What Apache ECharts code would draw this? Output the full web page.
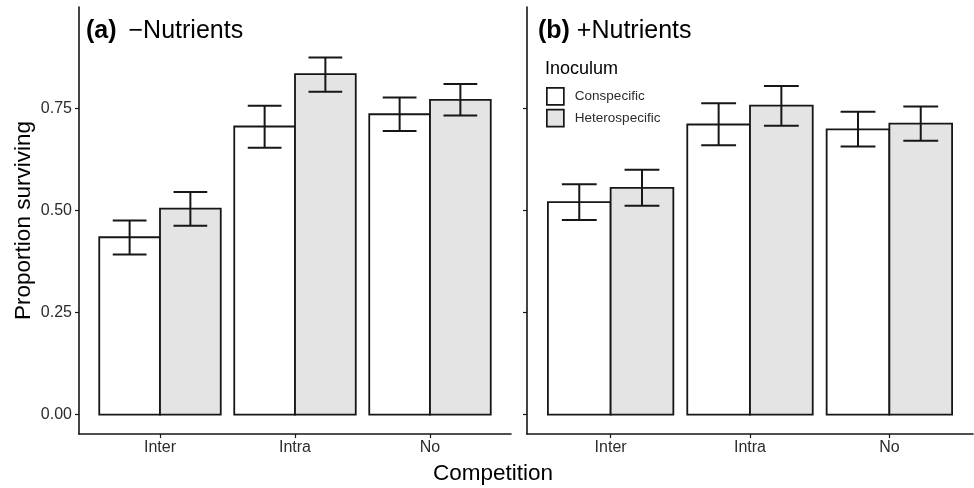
<!DOCTYPE html>
<html>
<head>
<meta charset="utf-8">
<script src="https://cdn.jsdelivr.net/npm/echarts@6/dist/echarts.min.js"></script>
<style>html,body{margin:0;padding:0;background:#fff}#c{width:974px;height:488px}</style>
</head>
<body>
<div id="c"></div>
<script>
const categories = ['Inter', 'Intra', 'No'];
const yTicks = [0, 0.25, 0.5, 0.75];
// (a) -Nutrients
const minusConsp   = [0.434, 0.705, 0.735];
const minusConspLo = [0.392, 0.653, 0.694];
const minusConspHi = [0.475, 0.756, 0.776];
const minusHetero   = [0.504, 0.833, 0.770];
const minusHeteroLo = [0.462, 0.790, 0.732];
const minusHeteroHi = [0.545, 0.874, 0.809];
// (b) +Nutrients
const plusConsp   = [0.520, 0.710, 0.698];
const plusConspLo = [0.476, 0.659, 0.656];
const plusConspHi = [0.564, 0.762, 0.741];
const plusHetero   = [0.555, 0.756, 0.712];
const plusHeteroLo = [0.511, 0.707, 0.670];
const plusHeteroHi = [0.599, 0.804, 0.754];

const FONT = '"Liberation Sans", Arial, sans-serif';
const INK = '#161616';
const GREY = '#e4e4e4';

function makeSeries(name, gi, offset, fill, vals, lo, hi) {
  return {
    type: 'custom', name: name, xAxisIndex: gi, yAxisIndex: gi,
    itemStyle: { color: fill, borderColor: INK, borderWidth: 1.8 },
    data: categories.map((c, i) => [i + 1, vals[i], lo[i], hi[i]]),
    renderItem: function (params, api) {
      const c = api.value(0) + offset;
      const v = api.value(1), l = api.value(2), h = api.value(3);
      const p0 = api.coord([c - 0.225, 0]);
      const p1 = api.coord([c + 0.225, v]);
      const eTop = api.coord([c - 0.125, h]);
      const eBot = api.coord([c + 0.125, l]);
      const cx = api.coord([c, 0])[0];
      const ls = { stroke: INK, lineWidth: 2, fill: null };
      return {
        type: 'group',
        children: [
          { type: 'rect', shape: { x: p0[0], y: p1[1], width: p1[0] - p0[0], height: p0[1] - p1[1] },
            style: { fill: fill, stroke: INK, lineWidth: 1.8 } },
          { type: 'line', shape: { x1: cx, y1: eTop[1], x2: cx, y2: eBot[1] }, style: ls },
          { type: 'line', shape: { x1: eTop[0], y1: eTop[1], x2: eBot[0], y2: eTop[1] }, style: ls },
          { type: 'line', shape: { x1: eTop[0], y1: eBot[1], x2: eBot[0], y2: eBot[1] }, style: ls }
        ]
      };
    }
  };
}

function xAxis(gi) {
  return {
    type: 'value', gridIndex: gi, min: 0.4, max: 3.6,
    axisLine: { show: true, onZero: false, lineStyle: { color: INK, width: 1.6 } },
    axisTick: { show: true, inside: false, length: 4, customValues: [1, 2, 3], lineStyle: { color: INK, width: 1.2 } },
    axisLabel: { customValues: [1, 2, 3], margin: 6, fontSize: 16, fontFamily: FONT, color: '#2b2b2b',
      formatter: v => categories[Math.round(v) - 1] },
    splitLine: { show: false }
  };
}
function yAxis(gi, showLabels, name) {
  return {
    type: 'value', gridIndex: gi, min: -0.0475, max: 0.9975,
    name: name, nameLocation: 'middle', nameGap: 44,
    nameTextStyle: { fontSize: 22.5, fontFamily: FONT, color: '#000' },
    axisLine: { show: true, onZero: false, lineStyle: { color: INK, width: 1.6 } },
    axisTick: { show: true, inside: false, length: 4, customValues: yTicks, lineStyle: { color: INK, width: 1.2 } },
    axisLabel: { show: showLabels, customValues: yTicks, margin: 7, fontSize: 16, fontFamily: FONT, color: '#2b2b2b',
      formatter: v => v.toFixed(2) },
    splitLine: { show: false }
  };
}

const richTitle = {
  b: { fontSize: 25, fontWeight: 'bold', fontFamily: FONT, color: '#000', lineHeight: 25 },
  r: { fontSize: 25, fontWeight: 'normal', fontFamily: FONT, color: '#000', lineHeight: 25 },
  m: { fontSize: 25, fontWeight: 'normal', fontFamily: FONT, color: '#000', lineHeight: 25, padding: [0, 0, 0, 5] }
};

const chart = echarts.init(document.getElementById('c'), null, { renderer: 'canvas' });
chart.setOption({
  animation: false,
  backgroundColor: '#fff',
  grid: [
    { left: 79, top: 7, width: 432, height: 427 },
    { left: 527, top: 7, width: 446, height: 427 }
  ],
  xAxis: [xAxis(0), xAxis(1)],
  yAxis: [yAxis(0, true, 'Proportion surviving'), yAxis(1, false, '')],
  title: [
    { left: 86, top: 19, padding: 0, text: '{b|(a)} {m|\u2212Nutrients}',
      textStyle: { fontWeight: 'normal', fontSize: 25, fontFamily: FONT, rich: richTitle } },
    { left: 538, top: 19, padding: 0, text: '{b|(b)} {r|+Nutrients}',
      textStyle: { fontWeight: 'normal', fontSize: 25, fontFamily: FONT, rich: richTitle } },
    { left: 545, top: 60, padding: 0, text: 'Inoculum',
      textStyle: { fontSize: 18, fontWeight: 'normal', fontFamily: FONT, color: '#000', lineHeight: 18 } },
    { left: 493, top: 463, padding: 0, textAlign: 'center', text: 'Competition',
      textStyle: { fontSize: 22.5, fontWeight: 'normal', fontFamily: FONT, color: '#000', lineHeight: 22 } }
  ],
  legend: {
    left: 546, top: 87, orient: 'vertical', padding: 0,
    itemWidth: 17, itemHeight: 17, itemGap: 3, selectedMode: false,
    data: [
      { name: 'Conspecific', icon: 'rect', itemStyle: { color: '#fff', borderColor: INK, borderWidth: 1.7 } },
      { name: 'Heterospecific', icon: 'rect', itemStyle: { color: GREY, borderColor: INK, borderWidth: 1.7 } }
    ],
    textStyle: { fontSize: 13.5, fontFamily: FONT, color: '#2b2b2b', padding: [0, 0, 0, 6] }
  },
  series: [
    makeSeries('Conspecific', 0, -0.225, '#fff', minusConsp, minusConspLo, minusConspHi),
    makeSeries('Heterospecific', 0, 0.225, GREY, minusHetero, minusHeteroLo, minusHeteroHi),
    makeSeries('Conspecific', 1, -0.225, '#fff', plusConsp, plusConspLo, plusConspHi),
    makeSeries('Heterospecific', 1, 0.225, GREY, plusHetero, plusHeteroLo, plusHeteroHi)
  ]
});
</script>
</body>
</html>
